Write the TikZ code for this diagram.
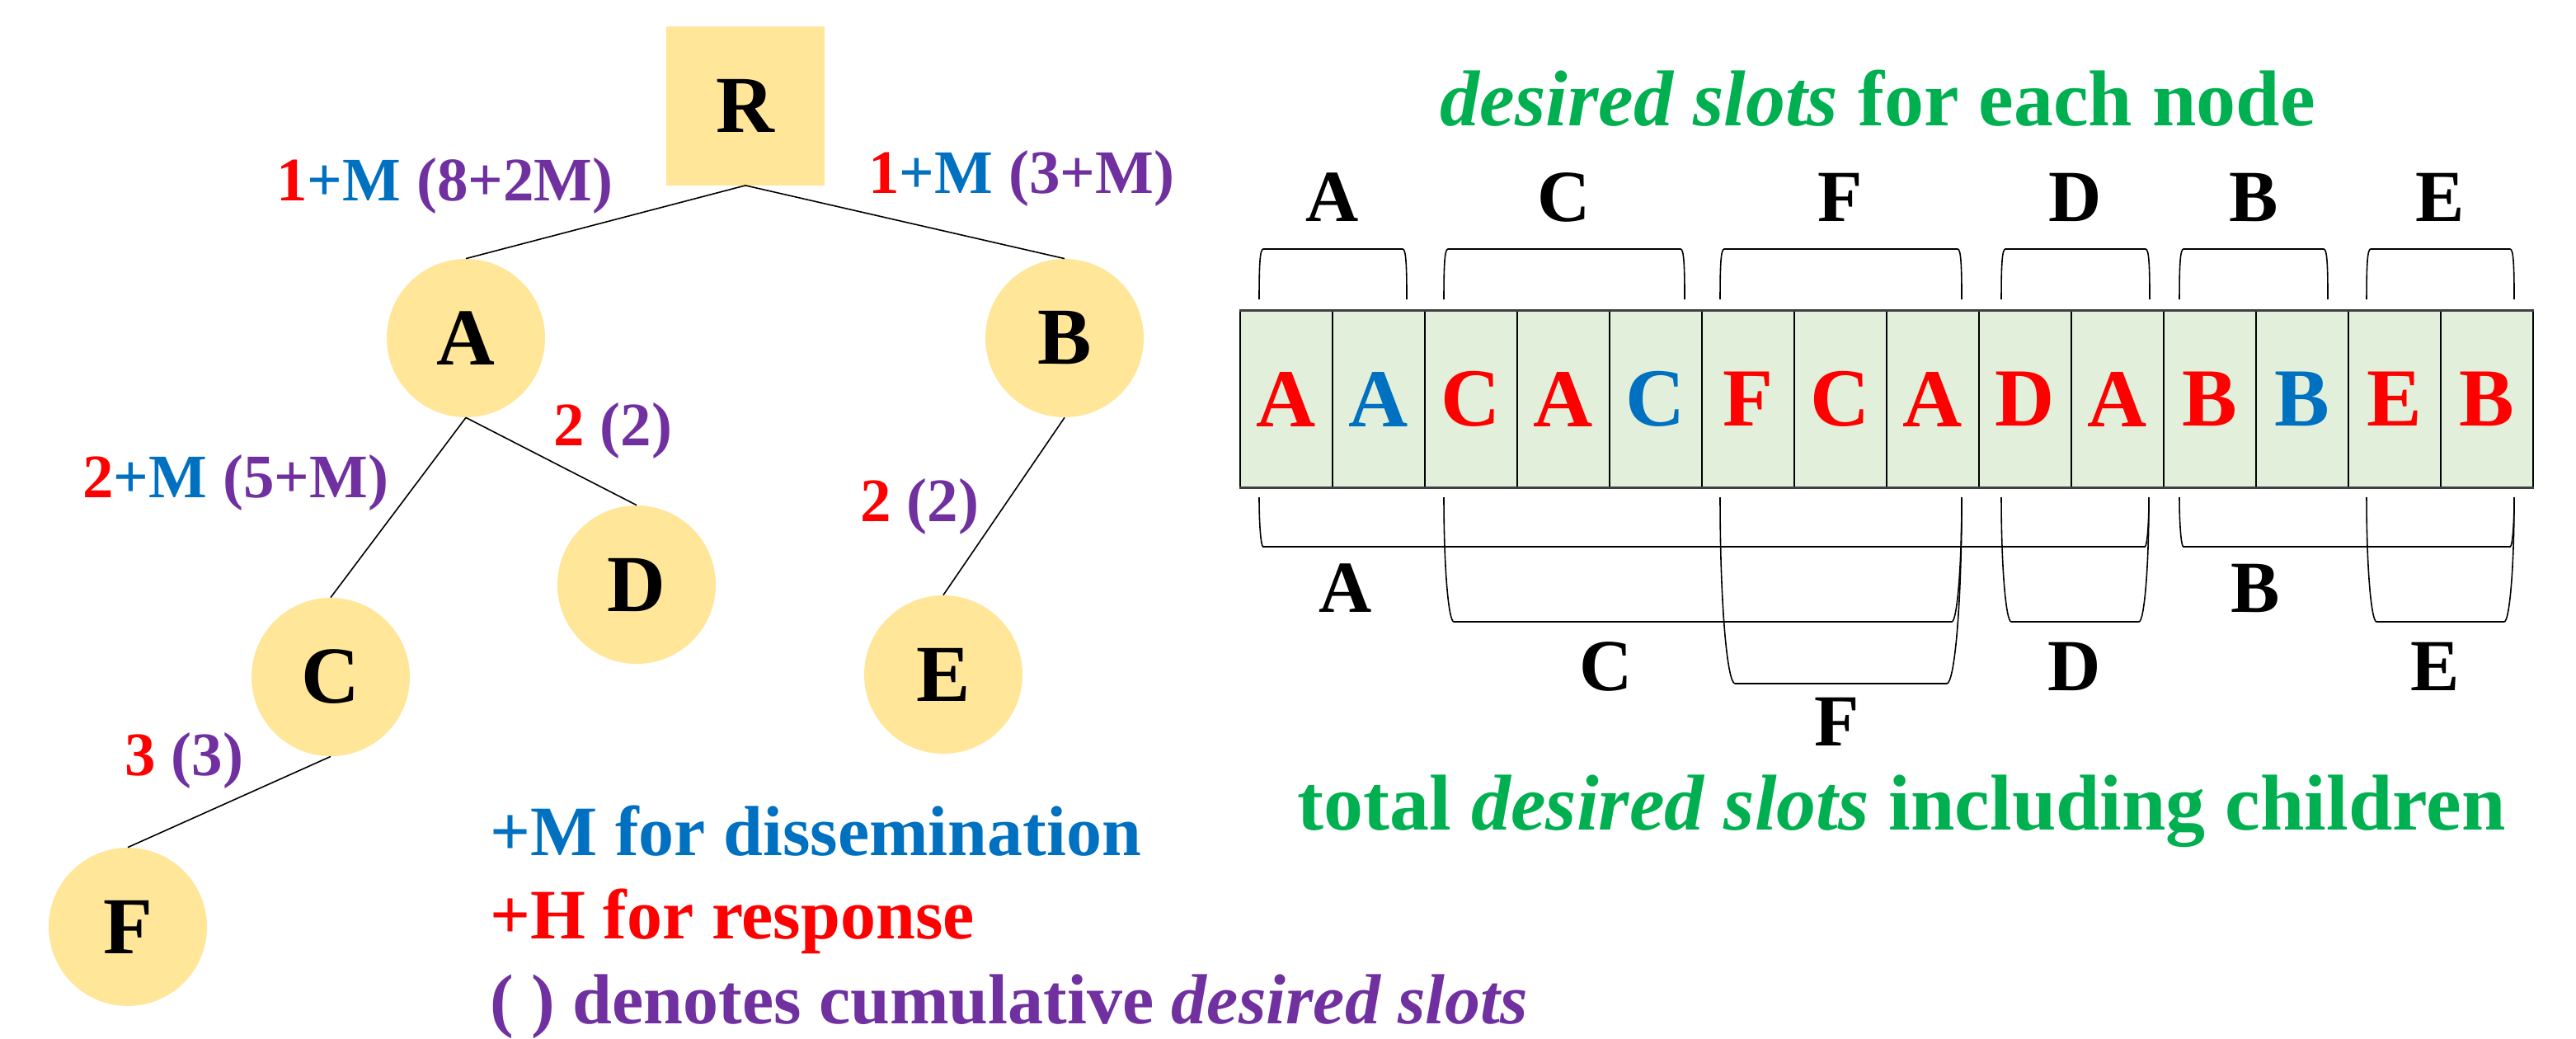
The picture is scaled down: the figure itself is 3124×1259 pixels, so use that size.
\documentclass[tikz,border=0pt]{standalone}
\usepackage{fontspec}
\setmainfont{Liberation Serif}
\definecolor{nodefill}{HTML}{FFE699}
\definecolor{cellfill}{HTML}{E2EFDA}
\definecolor{resp}{HTML}{FF0000}
\definecolor{dissem}{HTML}{0070C0}
\definecolor{cumul}{HTML}{7030A0}
\definecolor{heading}{HTML}{00B050}
\newcommand\fsz[1]{\fontsize{#1}{#1}\selectfont\bfseries}
% bracket opening downwards over the slot row: x1, x2
\newcommand\topbracket[2]{%
  \draw[brk] (#1,363) .. controls (#1,320) and ({#1+1},302) .. ({#1+5},302)
    -- ({#2-5},302) .. controls ({#2-1},302) and (#2,320) .. (#2,363);}
% bracket opening upwards under the slot row: x1, x2, bottom y
\newcommand\bottombracket[3]{%
  \draw[brk] (#1,603) .. controls (#1,{603+0.6*(#3-603)}) and ({#1+0.04*(#3-603)},#3) .. ({#1+0.08*(#3-603)},#3)
    -- ({#2-0.08*(#3-603)},#3) .. controls ({#2-0.04*(#3-603)},#3) and (#2,{603+0.6*(#3-603)}) .. (#2,603);}
\begin{document}
\begin{tikzpicture}[x=0.5pt,y=-0.5pt,
  treenode/.style={circle, fill=nodefill, minimum size=96pt, inner sep=0pt, font=\fsz{49}},
  rootnode/.style={rectangle, fill=nodefill, minimum width=96pt, minimum height=96.5pt, inner sep=0pt, font=\fsz{49}},
  link/.style={line width=0.8pt},
  edgelabel/.style={anchor=base west, inner sep=0pt, font=\fsz{37.5}},
  slotcell/.style={rectangle, draw=black, line width=0.6pt, fill=cellfill, minimum width=56pt, minimum height=107pt, inner sep=0pt, font=\fsz{50}},
  brk/.style={line width=0.8pt},
  brklabel/.style={anchor=base, inner sep=0pt, font=\fsz{44.5}},
  heading/.style={anchor=base, inner sep=0pt, text=heading, font=\fsz{48}},
  legend/.style={anchor=base west, inner sep=0pt, font=\fsz{43}}]
\useasboundingbox (0,0) rectangle (3124,1259);

% tree
\node[rootnode] (R) at (904,128) {R};
\node[treenode] (A) at (565,410) {A};
\node[treenode] (B) at (1291,410) {B};
\node[treenode] (C) at (401,821) {C};
\node[treenode] (D) at (772,709) {D};
\node[treenode] (E) at (1144,818) {E};
\node[treenode] (F) at (155,1124) {F};
\draw[link] (R.south) -- (A.north);
\draw[link] (R.south) -- (B.north);
\draw[link] (A.south) -- (C.north);
\draw[link] (A.south) -- (D.north);
\draw[link] (B.south) -- (E.north);
\draw[link] (C.south) -- (F.north);

% edge weights
\node[edgelabel] (lRA) at (335,243) {\textcolor{resp}{1}\textcolor{dissem}{+M} \textcolor{cumul}{(8+2M)}};
\node[edgelabel] (lRB) at (1053,234) {\textcolor{resp}{1}\textcolor{dissem}{+M} \textcolor{cumul}{(3+M)}};
\node[edgelabel] (lAD) at (671,540) {\textcolor{resp}{2} \textcolor{cumul}{(2)}};
\node[edgelabel] (lAC) at (100,603) {\textcolor{resp}{2}\textcolor{dissem}{+M} \textcolor{cumul}{(5+M)}};
\node[edgelabel] (lBE) at (1043,632) {\textcolor{resp}{2} \textcolor{cumul}{(2)}};
\node[edgelabel] (lCF) at (151,940) {\textcolor{resp}{3} \textcolor{cumul}{(3)}};

% legend
\node[legend, text=dissem] (lg1) at (594,1037) {+M for dissemination};
\node[legend, text=resp] (lg2) at (594,1138) {+H for response};
\node[legend, text=cumul] (lg3) at (594,1241) {( ) denotes cumulative \textit{desired slots}};

% slot row
\foreach \i/\L/\c in {0/A/resp,1/A/dissem,2/C/resp,3/A/resp,4/C/dissem,5/F/resp,6/C/resp,
                      7/A/resp,8/D/resp,9/A/resp,10/B/resp,11/B/dissem,12/E/resp,13/B/resp}
  \node[slotcell, text=\c] (s\i) at ({1560+112*\i},484) {\L};
\draw[line width=1.4pt, black!75] (s0.north west) -- (s13.north east);
\draw[line width=1.4pt, black!75] (s0.south west) -- (s13.south east);

% per-node brackets above the row
\topbracket{1527}{1706}
\topbracket{1751}{2043}
\topbracket{2086}{2379}
\topbracket{2427}{2607}
\topbracket{2643}{2823}
\topbracket{2870}{3049}
\node[brklabel] (tA) at (1616,268) {A};
\node[brklabel] (tC) at (1897,268) {C};
\node[brklabel] (tF) at (2232,268) {F};
\node[brklabel] (tD) at (2517,268) {D};
\node[brklabel] (tB) at (2733,268) {B};
\node[brklabel] (tE) at (2959,268) {E};

% subtree brackets below the row
\bottombracket{1527}{2606}{663}
\bottombracket{2643}{3049}{663}
\bottombracket{1751}{2379}{754}
\bottombracket{2427}{2606}{754}
\bottombracket{2870}{3049}{754}
\bottombracket{2086}{2379}{829}
\node[brklabel] (bA) at (1632,742) {A};
\node[brklabel] (bB) at (2735,742) {B};
\node[brklabel] (bC) at (1948,837) {C};
\node[brklabel] (bD) at (2516,837) {D};
\node[brklabel] (bE) at (2953,837) {E};
\node[brklabel] (bF) at (2228,904) {F};

% headings
\node[heading] (h1) at (2277,152) {\textit{desired slots} for each node};
\node[heading] (h2) at (2306,1006) {total \textit{desired slots} including children};
\end{tikzpicture}
\end{document}
